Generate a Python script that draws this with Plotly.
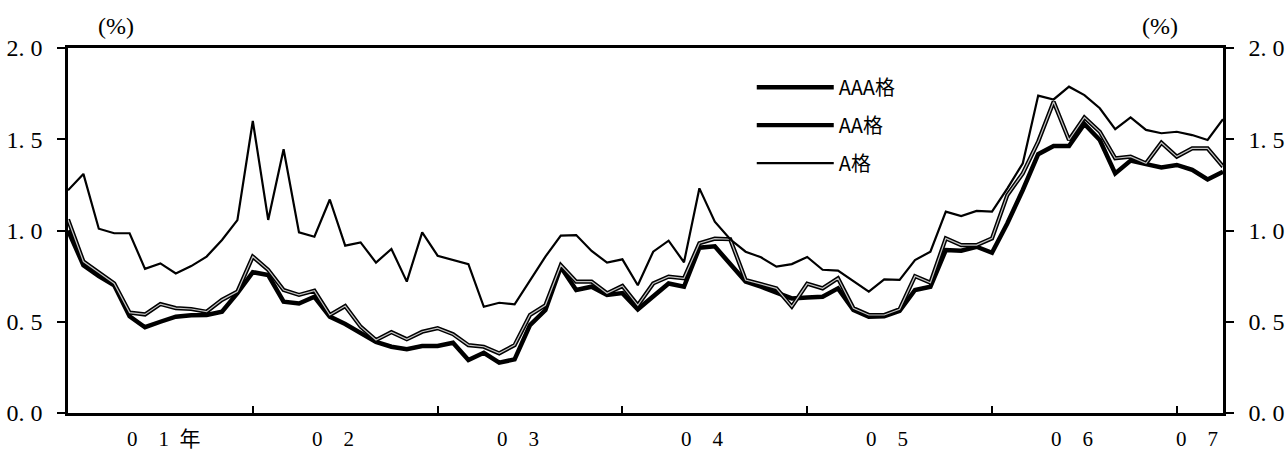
import plotly.graph_objects as go
import pandas as pd

# Months: Jan 2001 .. Apr 2007
months = [d.strftime("%Y-%m") for d in pd.date_range("2001-01-01", "2007-04-01", freq="MS")]

aaa = [1.00, 0.81, 0.75, 0.70, 0.53, 0.47, 0.50, 0.528, 0.535, 0.537, 0.555, 0.657,
       0.772, 0.756, 0.61, 0.60, 0.637, 0.528, 0.488, 0.438, 0.39, 0.363, 0.35, 0.367,
       0.367, 0.385, 0.29, 0.33, 0.276, 0.294, 0.482, 0.564, 0.80, 0.674, 0.692, 0.647,
       0.657, 0.568, 0.637, 0.71, 0.692, 0.906, 0.913, 0.82, 0.72, 0.692, 0.658, 0.628,
       0.633, 0.637, 0.683, 0.565, 0.528, 0.53, 0.56, 0.674, 0.692, 0.893, 0.889, 0.911,
       0.878, 1.04, 1.222, 1.418, 1.463, 1.463, 1.584, 1.496, 1.313, 1.383, 1.364, 1.346,
       1.359, 1.332, 1.28, 1.322]

aa = [1.06, 0.83, 0.77, 0.71, 0.55, 0.54, 0.597, 0.575, 0.57, 0.555, 0.62, 0.665,
      0.857, 0.784, 0.674, 0.647, 0.67, 0.537, 0.586, 0.473, 0.40, 0.443, 0.404, 0.445,
      0.465, 0.432, 0.372, 0.363, 0.327, 0.372, 0.537, 0.59, 0.81, 0.72, 0.72, 0.656,
      0.696, 0.59, 0.71, 0.747, 0.738, 0.93, 0.955, 0.952, 0.729, 0.707, 0.683, 0.583,
      0.708, 0.683, 0.738, 0.574, 0.537, 0.537, 0.568, 0.75, 0.714, 0.957, 0.92, 0.92,
      0.957, 1.195, 1.313, 1.487, 1.706, 1.496, 1.62, 1.541, 1.396, 1.405, 1.368, 1.481,
      1.405, 1.45, 1.45, 1.35]

a = [1.22, 1.31, 1.01, 0.985, 0.985, 0.79, 0.82, 0.765, 0.805, 0.857, 0.948, 1.057,
     1.60, 1.058, 1.445, 0.99, 0.966, 1.17, 0.917, 0.935, 0.824, 0.899, 0.72, 0.99,
     0.862, 0.838, 0.816, 0.582, 0.604, 0.595, 0.729, 0.857, 0.972, 0.975, 0.888, 0.824,
     0.842, 0.70, 0.884, 0.944, 0.826, 1.231, 1.048, 0.952, 0.884, 0.853, 0.802, 0.816,
     0.855, 0.785, 0.78, 0.72, 0.665, 0.732, 0.729, 0.838, 0.884, 1.103, 1.079, 1.107,
     1.103, 1.231, 1.368, 1.739, 1.718, 1.788, 1.742, 1.67, 1.555, 1.62, 1.551, 1.533,
     1.541, 1.523, 1.496, 1.61]

series_names = ["AAA格", "AA格", "A格"]
y_tickvals = [0, 0.5, 1.0, 1.5, 2.0]
y_ticktext = ["0. 0", "0. 5", "1. 0", "1. 5", "2. 0"]
year_tick_months = ["2002-01", "2003-01", "2004-01", "2005-01", "2006-01", "2007-01"]
year_labels = ["0\u20031\u2002年", "0\u20032", "0\u20033", "0\u20034", "0\u20035", "0\u20036", "0\u20037"]
year_label_pos = [3.7, 15.7, 27.7, 39.7, 51.7, 63.7, 71.8]

x = list(range(len(months)))
pos = {m: i for i, m in enumerate(months)}

NUM_FONT = "Liberation Serif, Noto Sans CJK JP"
fig = go.Figure()
fig.add_trace(go.Scatter(x=x, y=aaa, mode="lines", name=series_names[0], legendgroup="g1",
                         line=dict(color="black", width=4.5)))
fig.add_trace(go.Scatter(x=x, y=aa, mode="lines", name=series_names[1], legendgroup="g2",
                         line=dict(color="black", width=4.2)))
fig.add_trace(go.Scatter(x=x, y=aa, mode="lines", name=series_names[1], legendgroup="g2",
                         showlegend=False, line=dict(color="#c4c4c4", width=1.2)))
fig.add_trace(go.Scatter(x=x, y=a, mode="lines", name=series_names[2], legendgroup="g3",
                         line=dict(color="black", width=2.2)))
# right axis carrier
fig.add_trace(go.Scatter(x=[x[0]], y=[a[0]], yaxis="y2", mode="lines", showlegend=False,
                         hoverinfo="skip", line=dict(color="rgba(0,0,0,0)")))

fig.update_layout(
    width=1285, height=454, autosize=False,
    margin=dict(l=68, r=62, t=48, b=41, autoexpand=False),
    plot_bgcolor="white", paper_bgcolor="white",
    font=dict(family=NUM_FONT, color="black"),
    xaxis=dict(range=[0, len(months) - 1], tickvals=[pos[m] for m in year_tick_months],
               showticklabels=False, ticks="inside", ticklen=7, tickwidth=2, tickcolor="black",
               showline=True, linecolor="black", linewidth=2.5, mirror=True,
               showgrid=False, zeroline=False, automargin=False),
    yaxis=dict(range=[0, 2], tickvals=y_tickvals, ticktext=y_ticktext,
               ticks="outside", ticklen=8, tickwidth=2, tickcolor="black",
               showline=True, linecolor="black", linewidth=2.5, automargin=False,
               showgrid=False, zeroline=False, ticklabelstandoff=10,
               tickfont=dict(family=NUM_FONT, size=24, color="black")),
    yaxis2=dict(range=[0, 2], tickvals=y_tickvals, ticktext=y_ticktext, overlaying="y",
                side="right", ticks="outside", ticklen=8, tickwidth=2, tickcolor="black",
                showline=True, linecolor="black", linewidth=2.5, automargin=False,
                showgrid=False, zeroline=False, ticklabelstandoff=10,
                tickfont=dict(family=NUM_FONT, size=24, color="black")),
    legend=dict(x=0.592, y=0.946, xanchor="left", yanchor="top", bgcolor="rgba(0,0,0,0)",
                itemwidth=77, traceorder="grouped", tracegroupgap=9,
                font=dict(family="Noto Sans CJK JP", size=20, color="black")),
    showlegend=True,
)

for txt, xp in zip(year_labels, year_label_pos):
    fig.add_annotation(x=xp, y=-0.072, xref="x", yref="paper", text=txt, showarrow=False,
                       xanchor="left", yanchor="middle",
                       font=dict(family=NUM_FONT, size=21, color="black"))

for xp in [0.0416, 0.9455]:
    fig.add_annotation(x=xp, y=1.06, xref="paper", yref="paper", text="(%)", showarrow=False,
                       xanchor="center", yanchor="middle",
                       font=dict(family=NUM_FONT, size=24, color="black"))

fig.write_html("out.html", config={"displayModeBar": False},
               post_script="document.body.style.margin='0';document.body.style.overflow='hidden';")
